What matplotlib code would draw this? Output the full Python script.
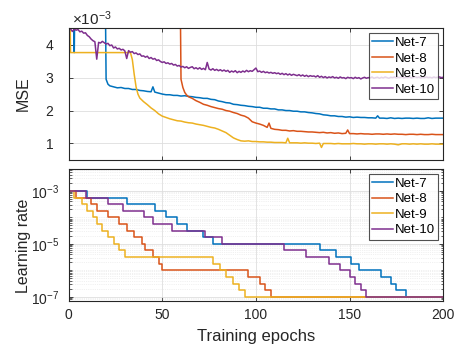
import numpy as np
import matplotlib
matplotlib.use('Agg')
import matplotlib.pyplot as plt
from matplotlib.ticker import FixedLocator, NullFormatter, LogFormatterSciNotation

plt.rcParams['font.family'] = 'Liberation Sans'
plt.rcParams['mathtext.fontset'] = 'custom'
plt.rcParams['mathtext.rm'] = 'Liberation Sans'
plt.rcParams['mathtext.it'] = 'Liberation Sans:italic'
plt.rcParams['mathtext.default'] = 'regular'

names = ['Net-7', 'Net-8', 'Net-9', 'Net-10']
colors = ['#0072BD', '#D95319', '#EDB120', '#7E2F8E']

# ---------------- validation MSE (x 1e-3) ----------------
ep7 = ([0, 2, 3, 4, 19, 20, 21, 22] + list(np.arange(24, 43, 2)) + [44, 45, 46]
       + list(np.arange(48, 163, 2)) + [164, 165, 166] + list(np.arange(168, 201, 2)))
mse7 = [9.0, 9.0, 3.76, 9.0, 9.0, 2.95, 2.80, 2.75,
        2.72, 2.69, 2.70, 2.67, 2.67, 2.64, 2.64, 2.61, 2.60, 2.58,
        2.57, 2.72, 2.56,
        2.53, 2.50, 2.48, 2.48, 2.46, 2.46, 2.44, 2.45, 2.43, 2.42, 2.40, 2.39, 2.37, 2.37,
        2.34, 2.33, 2.29, 2.27, 2.24, 2.23, 2.19, 2.18, 2.16, 2.15, 2.13, 2.12, 2.10, 2.10,
        2.07, 2.07, 2.05, 2.05, 2.02, 2.02, 2.00, 2.00, 1.98, 1.98, 1.96, 1.96, 1.94, 1.93,
        1.91, 1.90, 1.87, 1.86, 1.84, 1.84, 1.82, 1.82, 1.80, 1.81, 1.79, 1.80, 1.79, 1.79,
        1.78, 1.78,
        1.77, 1.84, 1.77,
        1.77, 1.76, 1.78, 1.76, 1.77, 1.76, 1.77, 1.77, 1.76, 1.77, 1.76, 1.76, 1.78, 1.76,
        1.77, 1.77, 1.77]

ep8 = ([0, 59, 60, 61, 62, 63] + list(np.arange(64, 107, 2)) + [107]
       + list(np.arange(108, 149, 2)) + [149] + list(np.arange(150, 201, 2)))
mse8 = [9.0, 9.0, 2.95, 2.70, 2.55, 2.47,
        2.42, 2.37, 2.30, 2.25, 2.19, 2.16, 2.12, 2.09, 2.06, 2.04, 2.00, 1.98, 1.94, 1.91,
        1.86, 1.83, 1.77, 1.66, 1.62, 1.59, 1.55, 1.49,
        1.62,
        1.46, 1.43, 1.42, 1.40, 1.40, 1.38, 1.39, 1.37, 1.37, 1.36, 1.35, 1.35, 1.34, 1.33,
        1.34, 1.32, 1.33, 1.31, 1.32, 1.30, 1.31,
        1.41,
        1.30, 1.30, 1.29, 1.30, 1.29, 1.29, 1.28, 1.29, 1.29, 1.28, 1.29, 1.28, 1.29, 1.28,
        1.28, 1.27, 1.28, 1.28, 1.27, 1.28, 1.27, 1.27, 1.28, 1.27, 1.27, 1.27]

ep9 = ([0, 1, 33, 34, 35, 36, 37, 38] + list(np.arange(40, 117, 2)) + [117]
       + list(np.arange(118, 135, 2)) + [135] + list(np.arange(136, 201, 2)))
mse9 = [9.0, 3.76, 3.76, 3.55, 3.10, 2.72, 2.50, 2.38,
        2.27, 2.18, 2.08, 2.00, 1.90, 1.83, 1.79, 1.75, 1.72, 1.69, 1.68, 1.65, 1.63, 1.62,
        1.59, 1.57, 1.55, 1.52, 1.49, 1.47, 1.43, 1.38, 1.33, 1.25, 1.17, 1.12, 1.08, 1.07,
        1.08, 1.06, 1.06, 1.05, 1.05, 1.04, 1.04, 1.03, 1.03, 1.03, 1.02,
        1.16,
        1.02, 1.02, 1.02, 1.01, 1.02, 1.01, 1.01, 1.00, 1.01,
        0.88,
        1.00, 1.00, 1.00, 0.99, 1.00, 0.99, 0.99, 0.99, 1.00, 0.99, 0.99, 0.98, 0.99, 0.99,
        0.98, 0.99, 0.99, 0.98, 0.99, 0.98, 0.96, 0.99, 0.99, 0.98, 0.99, 0.98, 0.99, 0.98,
        0.98, 0.99, 0.98, 0.98, 0.98]

ep10 = np.arange(0, 201)
mse10 = [9.0,
         4.48, 4.40, 4.47, 4.44, 4.46, 4.39, 4.41, 4.35, 4.36, 4.28,
         4.24, 4.17, 4.12, 4.09, 3.56, 4.07, 4.05, 4.10, 4.06, 4.02,
         4.04, 3.97, 3.99, 3.90, 3.93, 3.87, 3.89, 3.84, 3.86, 3.81,
         3.58, 3.82, 3.77, 3.79, 3.73, 3.75, 3.70, 3.72, 3.65, 3.66,
         3.62, 3.65, 3.58, 3.61, 3.56, 3.58, 3.52, 3.54, 3.49, 3.46,
         3.48, 3.43, 3.45, 3.41, 3.43, 3.38, 3.40, 3.35, 3.37, 3.32,
         3.34, 3.30, 3.33, 3.28, 3.31, 3.33, 3.27, 3.30, 3.26, 3.30,
         3.25, 3.28, 3.24, 3.46, 3.26, 3.23, 3.27, 3.22, 3.25, 3.21,
         3.24, 3.20, 3.23, 3.19, 3.22, 3.16, 3.20, 3.17, 3.21, 3.15,
         3.19, 3.16, 3.20, 3.17, 3.22, 3.18, 3.21, 3.19, 3.24, 3.29,
         3.18, 3.20, 3.16, 3.19, 3.15, 3.17, 3.14, 3.16, 3.13, 3.15,
         3.12, 3.14, 3.10, 3.13, 3.09, 3.12, 3.08, 3.11, 3.07, 3.10,
         3.08, 3.06, 3.09, 3.05, 3.08, 3.04, 3.07, 3.03, 3.06, 3.04,
         3.05, 3.02, 3.06, 3.01, 3.04, 3.00, 3.03, 2.99, 3.02, 3.00,
         3.03, 2.99, 3.01, 2.98, 3.02, 2.99, 3.00, 2.97, 3.01, 2.99,
         3.00, 2.97, 3.01, 2.98, 3.00, 2.96, 2.99, 3.01, 2.98, 3.00,
         2.99, 3.02, 2.98, 3.00, 3.01, 2.98, 3.01, 2.99, 3.02, 3.00,
         2.98, 3.01, 3.00, 3.02, 2.99, 3.01, 3.00, 3.03, 2.99, 3.01,
         3.00, 3.02, 2.99, 3.01, 3.03, 3.00, 3.02, 2.99, 3.01, 3.00,
         3.02, 3.00, 3.01, 2.99, 3.02, 3.00, 3.01, 3.02, 3.00, 3.01]

# ---------------- learning-rate schedule ----------------
# epochs at which the learning rate was reduced (one decay step each)
drops7 = [10, 31, 46, 52, 58, 63, 72, 77, 134, 143, 151, 155, 167, 172, 175, 180]
drops8 = [4, 12, 15, 21, 27, 31, 35, 39, 41, 45, 48, 50, 96, 102, 105, 108]
drops9 = [3, 7, 10, 13, 15, 18, 21, 24, 27, 30, 77, 81, 84, 88, 91, 94]
drops10 = [9, 21, 29, 40, 45, 55, 73, 82, 115, 127, 139, 145, 150, 153, 156, 159]
lr_start = 1e-3
lr_factor = 10 ** -0.25
n_epochs = 200

mse_x = [ep7, ep8, ep9, ep10]
mse_y = [mse7, mse8, mse9, mse10]
lr_drops = [drops7, drops8, drops9, drops10]

fig = plt.figure(figsize=(4.67, 3.44), dpi=100)
ax1 = fig.add_axes([0.147, 0.535, 0.802, 0.383])
ax2 = fig.add_axes([0.147, 0.125, 0.802, 0.384])

axc = '#262626'
for ax in (ax1, ax2):
    ax.set_xlim(0, 200)
    ax.set_xticks([0, 50, 100, 150, 200])
    ax.tick_params(direction='in', length=3, width=0.6, colors=axc, labelsize=10,
                   top=True, right=True)
    ax.tick_params(which='minor', direction='in', length=1.8, width=0.5, colors=axc,
                   right=True, left=True)
    for s in ax.spines.values():
        s.set_color(axc)
        s.set_linewidth(0.8)

legend_kw = dict(loc='upper right', fontsize=9.5, frameon=True, fancybox=False,
                 borderaxespad=0.4, handlelength=1.55, handletextpad=0.15,
                 labelspacing=0.25, borderpad=0.25)

# MSE panel
for x, y, c, n in zip(mse_x, mse_y, colors, names):
    ax1.plot(x, y, color=c, lw=1.1, label=n)
ax1.set_ylim(0.5, 4.5)
ax1.set_yticks([1, 2, 3, 4])
ax1.tick_params(axis='x', labelbottom=False)
ax1.tick_params(axis='y', pad=11)
ax1.grid(True, color='#dedede', lw=0.6)
ax1.set_axisbelow(True)
ax1.set_ylabel('MSE', fontsize=11.5, color=axc)
ax1.yaxis.set_label_coords(-0.10, 0.5)
ax1.text(0.008, 1.025, r'$\times10^{-3}$', transform=ax1.transAxes, fontsize=11,
         color=axc, ha='left', va='baseline')
leg1 = ax1.legend(**legend_kw)
leg1.get_frame().set_edgecolor(axc)
leg1.get_frame().set_linewidth(0.8)

# learning-rate panel
for d, c, n in zip(lr_drops, colors, names):
    xs = [0] + d + [n_epochs]
    ys = [lr_start * lr_factor ** k for k in range(len(d) + 1)]
    ys = ys + [ys[-1]]
    ax2.step(xs, ys, where='post', color=c, lw=1.1, label=n)
ax2.set_yscale('log')
ax2.set_ylim(6.9e-8, 6.8e-3)
ax2.yaxis.set_major_locator(FixedLocator([1e-7, 1e-5, 1e-3]))
ax2.yaxis.set_major_formatter(LogFormatterSciNotation())
minor = [m * 10.0 ** p for p in range(-8, -1) for m in range(1, 10)
         if not (m == 1 and p in (-7, -5, -3))]
ax2.yaxis.set_minor_locator(FixedLocator(minor))
ax2.yaxis.set_minor_formatter(NullFormatter())
ax2.tick_params(axis='y', pad=7)
ax2.tick_params(axis='x', pad=5)
ax2.grid(True, which='major', color='#dedede', lw=0.6)
ax2.grid(True, which='minor', axis='y', color='#e4e4e4', lw=0.5, linestyle=':')
ax2.set_axisbelow(True)
ax2.set_ylabel('Learning rate', fontsize=11.5, color=axc)
ax2.yaxis.set_label_coords(-0.10, 0.42)
ax2.set_xlabel('Training epochs', fontsize=12, color=axc)
ax2.xaxis.set_label_coords(0.5, -0.212)
leg2 = ax2.legend(**legend_kw)
leg2.get_frame().set_edgecolor(axc)
leg2.get_frame().set_linewidth(0.8)

fig.savefig('out.png', dpi=100)
